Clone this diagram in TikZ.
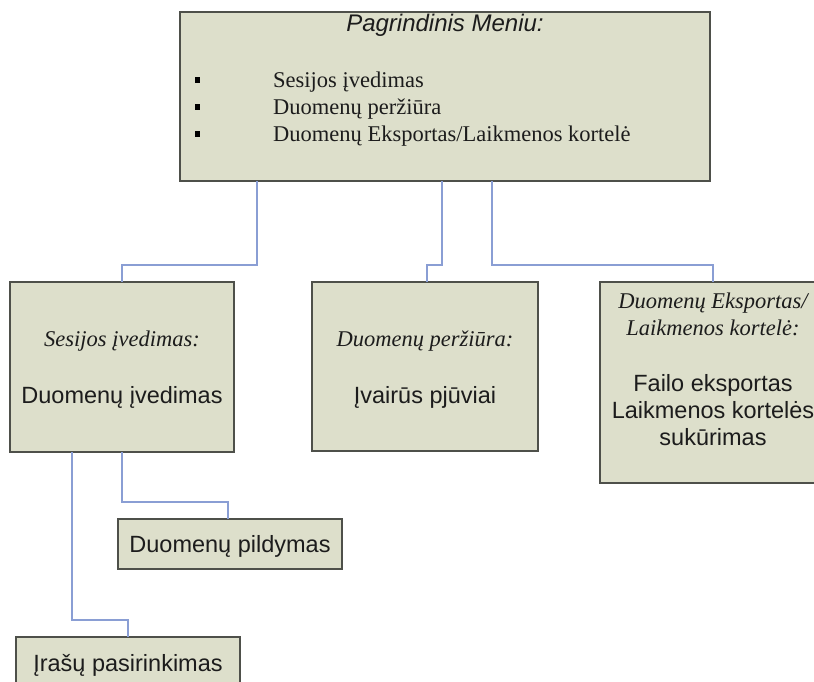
\documentclass[tikz,border=0pt]{standalone}
\usepackage{fontspec}
\setmainfont{Liberation Serif}
\setsansfont{Liberation Sans}
\usetikzlibrary{positioning}

\definecolor{boxfill}{RGB}{221,223,203}
\definecolor{boxline}{RGB}{78,80,74}
\definecolor{linkblue}{RGB}{138,158,212}
\definecolor{ink}{RGB}{28,28,28}

\tikzset{
  panel/.style={draw=boxline, line width=1.8pt, fill=boxfill, inner sep=0pt, outer sep=0pt, rectangle},
  link/.style={draw=linkblue, line width=1.4pt},
  headtxt/.style={anchor=base, inner sep=0pt, text=ink, font=\fontsize{22.5}{27}\selectfont\itshape},
  bodytxt/.style={anchor=base, inner sep=0pt, text=ink, font=\sffamily\fontsize{23.5}{27}\selectfont},
  itemtxt/.style={anchor=base west, inner sep=0pt, text=ink, font=\fontsize{22.5}{27}\selectfont},
  dot/.style={fill=black, inner sep=0pt, minimum width=5pt, minimum height=6pt, rectangle}
}

\begin{document}
\begin{tikzpicture}[x=1pt,y=-1pt]
\clip (0,0) rectangle (814,681);
\fill[white] (0,0) rectangle (814,681);

% main menu
\node[panel, minimum width=530pt, minimum height=169pt] (menu) at (445,96.5) {};
\node[anchor=base, inner sep=0pt, text=ink, font=\sffamily\itshape\fontsize{24}{28}\selectfont] (menutitle) at (445,31) {Pagrindinis Meniu:};
\node[dot] (b1) at (197,80) {};
\node[dot] (b2) at (197,107) {};
\node[dot] (b3) at (197,134) {};
\node[itemtxt] (i1) at (273,87) {Sesijos įvedimas};
\node[itemtxt] (i2) at (273,114) {Duomenų peržiūra};
\node[itemtxt] (i3) at (273,141) {Duomenų Eksportas/Laikmenos kortelė};

% second level
\node[panel, minimum width=224pt, minimum height=170pt] (ses) at (122,367) {};
\node[headtxt] (sesh) at (122,346) {Sesijos įvedimas:};
\node[bodytxt] (sesb) at (122,403) {Duomenų įvedimas};

\node[panel, minimum width=226pt, minimum height=169pt] (per) at (425,366.5) {};
\node[headtxt] (perh) at (425,346) {Duomenų peržiūra:};
\node[bodytxt] (perb) at (425,403) {Įvairūs pjūviai};

\node[panel, minimum width=226pt, minimum height=201pt] (eks) at (713,382.5) {};
\node[headtxt] (eksh1) at (713,308) {Duomenų Eksportas/};
\node[headtxt] (eksh2) at (713,335) {Laikmenos kortelė:};
\node[bodytxt] (eksb1) at (713,391) {Failo eksportas};
\node[bodytxt] (eksb2) at (713,418) {Laikmenos kortelės};
\node[bodytxt] (eksb3) at (713,445) {sukūrimas};

% third level
\node[panel, minimum width=224pt, minimum height=50pt] (pild) at (230,544) {};
\node[bodytxt] (pildt) at (230,552) {Duomenų pildymas};

\node[panel, minimum width=224pt, minimum height=53pt] (iras) at (128,663.5) {};
\node[bodytxt] (irast) at (128,671) {Įrašų pasirinkimas};

% connectors
\draw[link] ([xshift=77pt]menu.south west) -- ++(0,84) -| ([xshift=112pt]ses.north west);
\draw[link] ([xshift=262pt]menu.south west) -- ++(0,84) -| ([xshift=115pt]per.north west);
\draw[link] ([xshift=312pt]menu.south west) -- ++(0,84) -| ([xshift=113pt]eks.north west);
\draw[link] ([xshift=112pt]ses.south west) -- ++(0,50) -| ([xshift=110pt]pild.north west);
\draw[link] ([xshift=62pt]ses.south west) -- ++(0,168) -| ([xshift=112pt]iras.north west);
\end{tikzpicture}
\end{document}
